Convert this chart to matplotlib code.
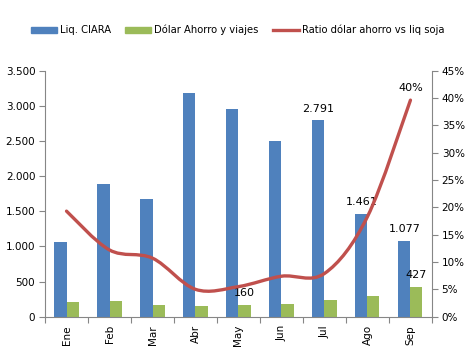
import numpy as np
import matplotlib
matplotlib.use("Agg")
import matplotlib.pyplot as plt
from matplotlib.path import Path
from matplotlib.patches import PathPatch, Patch
from matplotlib.lines import Line2D

# data
meses = ["Ene", "Feb", "Mar", "Abr", "May", "Jun", "Jul", "Ago", "Sep"]
liq_ciara = [1062, 1888, 1674, 3182, 2954, 2499, 2791, 1461, 1077]
dolar_ahorro = [209, 228, 170, 152, 160, 181, 237, 294, 427]
ratio = [0.193, 0.122, 0.107, 0.050, 0.055, 0.074, 0.079, 0.183, 0.396]

blue = "#4F81BD"
green = "#9BBB59"
red = "#C0504D"
gray = "#868686"

plt.rcParams["font.family"] = "DejaVu Sans"
plt.rcParams["font.size"] = 7.5

fig = plt.figure(figsize=(4.69, 3.64), dpi=100)
ax = fig.add_axes([0.096, 0.130, 0.825, 0.676])
ax2 = ax.twinx()

x = np.arange(len(meses))
w = 0.28
ax.bar(x - w / 2, liq_ciara, w, color=blue, zorder=2)
ax.bar(x + w / 2, dolar_ahorro, w, color=green, zorder=2)

ax.set_xlim(-0.5, len(meses) - 0.5)
ax.set_ylim(0, 3500)
ax.set_yticks(np.arange(0, 3501, 500))
ax.set_yticklabels([f"{v:,}".replace(",", ".") for v in range(0, 3501, 500)])
ax.set_xticks(np.arange(-0.5, len(meses), 1))
ax.set_xticklabels([])
ax.set_xticks(x, minor=True)
ax.set_xticklabels(meses, minor=True, rotation=90)
ax.tick_params(axis="x", which="minor", length=0, pad=6)
ax.tick_params(axis="x", which="major", length=4, color=gray, direction="out")
ax.tick_params(axis="y", length=4, color=gray, pad=3)

# smooth ratio line (Catmull-Rom as cubic bezier)
pts = np.column_stack([x, ratio])
verts = [pts[0]]
codes = [Path.MOVETO]
n = len(pts)
for i in range(n - 1):
    p0 = pts[i - 1] if i > 0 else pts[i]
    p1 = pts[i]
    p2 = pts[i + 1]
    p3 = pts[i + 2] if i + 2 < n else pts[i + 1]
    c1 = p1 + (p2 - p0) / 6
    c2 = p2 - (p3 - p1) / 6
    verts += [c1, c2, p2]
    codes += [Path.CURVE4] * 3
ax2.add_patch(PathPatch(Path(verts, codes), fill=False, edgecolor=red, lw=2.4, capstyle="round", zorder=3))

ax2.set_ylim(0, 0.45)
ax2.set_yticks(np.arange(0, 0.451, 0.05))
ax2.set_yticklabels([f"{int(round(v * 100))}%" for v in np.arange(0, 0.451, 0.05)])
ax2.tick_params(axis="y", length=4, color=gray, pad=3)

for a in (ax, ax2):
    a.spines["top"].set_visible(False)
    for s in ("left", "right", "bottom"):
        a.spines[s].set_color(gray)
ax.spines["right"].set_visible(False)
ax2.spines["left"].set_visible(False)
ax2.spines["bottom"].set_visible(False)

# data labels
fmt = lambda v: f"{v:,}".replace(",", ".")
for i in [6, 7, 8]:
    ax.annotate(fmt(liq_ciara[i]), (x[i] - w / 2, liq_ciara[i]), xytext=(0, 5),
                textcoords="offset points", ha="center", va="bottom", fontsize=8)
for i in [4, 8]:
    ax.annotate(fmt(dolar_ahorro[i]), (x[i] + w / 2, dolar_ahorro[i]), xytext=(0, 5),
                textcoords="offset points", ha="center", va="bottom", fontsize=8, zorder=5)
ax2.annotate(f"{round(ratio[-1] * 100)}%", (x[-1], ratio[-1]), xytext=(0, 5),
             textcoords="offset points", ha="center", va="bottom", fontsize=8)

handles = [Patch(color=blue), Patch(color=green), Line2D([], [], color=red, lw=2.4)]
fig.legend(handles, ["Liq. CIARA", "Dólar Ahorro y viajes", "Ratio dólar ahorro vs liq soja"],
           loc="center", bbox_to_anchor=(0.507, 0.917), ncol=3, frameon=False,
           handlelength=2.6, handleheight=0.5, columnspacing=1.4, handletextpad=0.3, fontsize=7.2)

fig.savefig("out.png", dpi=100)
